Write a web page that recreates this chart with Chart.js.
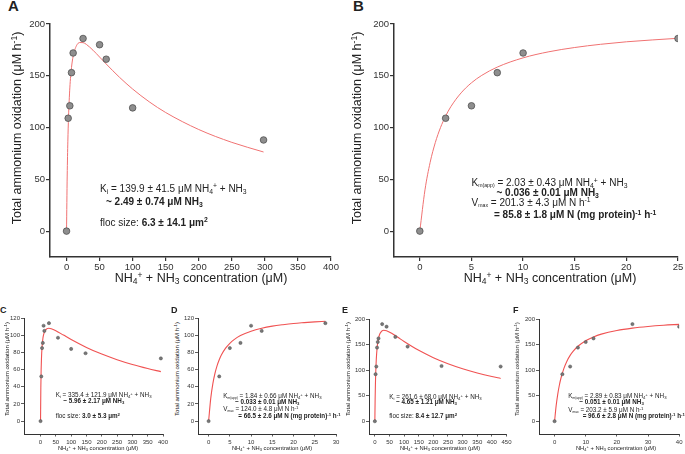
<!DOCTYPE html>
<html><head><meta charset="utf-8">
<script src="https://cdn.jsdelivr.net/npm/chart.js@4.4.1/dist/chart.umd.min.js"></script>
<style>
body{margin:0;width:685px;height:454px;position:relative;background:#fff;overflow:hidden;font-family:"Liberation Sans",Arial,sans-serif;color:#222}
canvas{position:absolute}
.t{position:absolute;white-space:nowrap;line-height:1}
.c{transform:translateX(-50%)}
.yt{transform:translate(-50%,-50%) rotate(-90deg)}
.f10{font-size:10px}.f63{font-size:6.3px}.tb{font-size:12.5px}.ts{font-size:6.1px}.tx{font-size:5.8px}
sub,sup{font-size:68%;line-height:0;position:relative;vertical-align:baseline}
sub{top:.32em}sup{top:-.45em}
sub.s{font-size:52%}
.L{font-weight:bold;font-size:15px}.l{font-weight:bold;font-size:9px}
</style></head><body>
<script>
// ---- Panel A (substrate inhibition, main) ----
const xA = [0,2.5,5,7.5,10,25,50,60,100,298];
const yA = [0,109,121,153,172,186,180,166,119,88];
const fitXA = [0,1,2,3,5,7.5,10,15,20,25,30,40,50,60,80,100,125,150,200,250,298];
const fitYA = [0,53.2,86.8,109.7,138.3,157.9,168.8,179.0,182.1,182.0,180.3,174.7,168.1,161.4,148.6,137.2,124.9,114.5,98.1,85.7,76.4];
const xTicksA = [0,50,100,150,200,250,300,350,400];
const yTicksA = [0,50,100,150,200];
// ---- Panel B (Michaelis-Menten, main) ----
const xB = [0,2.5,5,7.5,10,25];
const yB = [0,109,121,153,172,186];
const fitXB = [0,0.5,1,1.5,2,2.5,3,4,5,6,7.5,10,12.5,15,17.5,20,22.5,25];
const fitYB = [0,39.8,66.4,85.5,99.9,111.1,120.1,133.5,143.2,150.4,158.4,167.3,173.2,177.3,180.4,182.8,184.6,186.2];
const xTicksB = [0,5,10,15,20,25];
const yTicksB = [0,50,100,150,200];
// ---- Panel C ----
const xC = [0,2.5,5,7.5,10,12.5,27.5,57,100,147,393];
const yC = [0,52,85,91,111,105,114,97,84,79,73];
const fitXC = [0,1,2,3,5,7.5,10,15,20,27,35,50,75,100,150,200,250,300,350,393];
const fitYC = [0,39.5,60.0,72.4,86.5,95.6,100.6,105.4,107.3,108.0,107.5,105.2,100.1,95.0,85.8,78.0,71.5,65.9,61.2,57.6];
const xTicksC = [0,50,100,150,200,250,300,350,400];
const yTicksC = [0,20,40,60,80,100,120];
// ---- Panel D ----
const xD = [0,2.5,5,7.5,10,12.5,27.5];
const yD = [0,52,85,91,111,105,114];
const fitXD = [0,0.5,1,1.5,2,2.5,3,4,5,6,7.5,10,12.5,15,17.5,20,22.5,25,27.5];
const fitYD = [0,26.5,43.7,55.7,64.6,71.4,76.9,84.9,90.6,94.9,99.6,104.7,108.1,110.5,112.2,113.6,114.6,115.5,116.2];
const xTicksD = [0,5,10,15,20,25,30];
const yTicksD = [0,20,40,60,80,100,120];
// ---- Panel E ----
const xE = [0,2.5,5,7.5,10,12.5,25,40,70,112,228,430];
const yE = [0,92,107,144,155,162,190,185,165,146,108,107];
const fitXE = [0,1,2,3,5,7.5,10,15,20,30,40,60,80,100,150,200,250,300,350,400,430];
const fitYE = [0,44.4,73.8,94.7,122.0,142.1,154.4,167.7,173.9,177.9,177.2,171.3,163.7,156.1,138.7,124.4,112.6,102.8,94.5,87.4,83.7];
const xTicksE = [0,50,100,150,200,250,300,350,400,450];
const yTicksE = [0,50,100,150,200];
// ---- Panel F ----
const xF = [0,2.5,5,7.5,10,12.5,25,40];
const yF = [0,92,107,144,155,162,190,185];
const fitXF = [0,0.5,1,1.5,2,3,4,5,6,7.5,10,12.5,15,20,25,30,35,40];
const fitYF = [0,30.0,52.2,69.4,83.1,103.5,118.0,128.8,137.1,146.7,157.6,165.0,170.4,177.5,182.1,185.3,187.7,189.5];
const xTicksF = [0,10,20,30,40];
const yTicksF = [0,50,100,150,200];

function makeChart(s){
  const left = s.area.l - s.yw, top = s.area.t - s.pt;
  const w = s.area.r + s.pr - left, h = s.area.b + s.xh - top;
  const c = document.createElement('canvas');
  c.width = w; c.height = h;
  c.style.left = left+'px'; c.style.top = top+'px';
  c.style.width = w+'px'; c.style.height = h+'px';
  document.body.appendChild(c);
  const sm = s.small, ac = '#333';
  const fs = sm ? 6 : 9.5;
  const axis = (ticks, mn, mx, isX) => ({
    type:'linear', min:mn, max:mx,
    afterBuildTicks: sc => { sc.ticks = ticks.map(v => ({value:v})); },
    afterFit: sc => { if (isX) sc.height = s.xh; else sc.width = s.yw; },
    grid:{display:true, drawOnChartArea:false, drawTicks:true, tickLength: sm ? (isX?2.5:3) : 4, color:ac, lineWidth: sm?0.8:1.2},
    border:{display:true, color:ac, width: sm?1:1.5},
    ticks:{font:{family:'Liberation Sans', size:fs}, color:'#333', padding: sm ? (isX?2.5:1) : 1, maxRotation:0, autoSkip:false}
  });
  new Chart(c, {
    type:'scatter',
    data:{datasets:[
      {data: s.xs.map((x,i)=>({x:x, y:s.ys[i]})), showLine:false,
       pointRadius: sm?1.6:3.3, pointBackgroundColor: sm?'#777':'#8e8e8e',
       pointBorderColor:'#505050', pointBorderWidth: sm?0.5:0.8},
      {data: s.fx.map((x,i)=>({x:x, y:s.fy[i]})), showLine:true, pointRadius:0,
       borderColor: sm?'#f05252':'#f07272', borderWidth: sm?1.1:1,
       cubicInterpolationMode:'monotone', fill:false}
    ]},
    options:{
      responsive:false, animation:false, devicePixelRatio:1,
      layout:{padding:{top:s.pt, right:s.pr, left:0, bottom:0}},
      plugins:{legend:{display:false}, tooltip:{enabled:false}},
      scales:{ x: axis(s.xt, s.xMin, s.xMax, true), y: axis(s.yt, s.yMin, s.yMax, false) }
    }
  });
}

makeChart({area:{l:50,t:24,r:331,b:257}, yw:40, xh:20, pt:8, pr:12, xs:xA, ys:yA, fx:fitXA, fy:fitYA, xt:xTicksA, yt:yTicksA, xMin:-25, xMax:400, yMin:-25, yMax:200});
makeChart({area:{l:394,t:24,r:678,b:257}, yw:40, xh:20, pt:8, pr:7, xs:xB, ys:yB, fx:fitXB, fy:fitYB, xt:xTicksB, yt:yTicksB, xMin:-2.5, xMax:25, yMin:-25, yMax:200});
makeChart({small:true, area:{l:24,t:318,r:163,b:434}, yw:16, xh:12, pt:6, pr:8, xs:xC, ys:yC, fx:fitXC, fy:fitYC, xt:xTicksC, yt:yTicksC, xMin:-54, xMax:400, yMin:-15, yMax:120});
makeChart({small:true, area:{l:198,t:318,r:336,b:434}, yw:16, xh:12, pt:6, pr:6, xs:xD, ys:yD, fx:fitXD, fy:fitYD, xt:xTicksD, yt:yTicksD, xMin:-2.5, xMax:30, yMin:-15, yMax:120});
makeChart({small:true, area:{l:369,t:319,r:508,b:434}, yw:18, xh:12, pt:6, pr:6, xs:xE, ys:yE, fx:fitXE, fy:fitYE, xt:xTicksE, yt:yTicksE, xMin:-20, xMax:450, yMin:-25, yMax:200});
makeChart({small:true, area:{l:539,t:319,r:680,b:434}, yw:18, xh:12, pt:6, pr:5, xs:xF, ys:yF, fx:fitXF, fy:fitYF, xt:xTicksF, yt:yTicksF, xMin:-5, xMax:40, yMin:-25, yMax:200});
</script>

<!-- Panel letters -->
<div class="t L" style="left:8px;top:-2px">A</div>
<div class="t L" style="left:353px;top:-2px">B</div>
<div class="t l" style="left:0px;top:305.5px">C</div>
<div class="t l" style="left:171px;top:305.5px">D</div>
<div class="t l" style="left:342px;top:305.5px">E</div>
<div class="t l" style="left:513px;top:305.5px">F</div>

<!-- Axis titles, top -->
<div class="t tb yt" style="left:17px;top:128px">Total ammonium oxidation (μM h<sup>-1</sup>)</div>
<div class="t tb yt" style="left:357px;top:128px">Total ammonium oxidation (μM h<sup>-1</sup>)</div>
<div class="t tb c" style="left:201px;top:271.5px">NH<sub>4</sub><sup>+</sup> + NH<sub>3</sub> concentration (μM)</div>
<div class="t tb c" style="left:550px;top:271.5px">NH<sub>4</sub><sup>+</sup> + NH<sub>3</sub> concentration (μM)</div>

<!-- Annotations A -->
<div class="t f10" style="left:100px;top:183.5px">K<sub>i</sub> = 139.9 ± 41.5 μM NH<sub>4</sub><sup>+</sup> + NH<sub>3</sub></div>
<div class="t f10" style="left:106px;top:196.5px;font-weight:bold">~ 2.49 ± 0.74 μM NH<sub>3</sub></div>
<div class="t f10" style="left:100px;top:217.5px">floc size: <b>6.3 ± 14.1 μm<sup>2</sup></b></div>

<!-- Annotations B -->
<div class="t f10" style="left:471.5px;top:177.7px">K<sub class="s">m(app)</sub> = 2.03 ± 0.43 μM NH<sub>4</sub><sup>+</sup> + NH<sub>3</sub></div>
<div class="t f10" style="left:496.5px;top:188px;font-weight:bold">~ 0.036 ± 0.01 μM NH<sub>3</sub></div>
<div class="t f10" style="left:471.5px;top:197.5px">V<sub class="s">max</sub> = 201.3 ± 4.3 μM N h<sup>-1</sup></div>
<div class="t f10" style="left:494px;top:210px;font-weight:bold">= 85.8 ± 1.8 μM N (mg protein)<sup>-1</sup> h<sup>-1</sup></div>

<!-- Axis titles, bottom -->
<div class="t ts yt" style="left:7px;top:369px">Total ammonium oxidation (μM h<sup>-1</sup>)</div>
<div class="t ts yt" style="left:177px;top:369px">Total ammonium oxidation (μM h<sup>-1</sup>)</div>
<div class="t ts yt" style="left:348px;top:369px">Total ammonium oxidation (μM h<sup>-1</sup>)</div>
<div class="t ts yt" style="left:517px;top:369px">Total ammonium oxidation (μM h<sup>-1</sup>)</div>
<div class="t tx c" style="left:98px;top:446px">NH<sub>4</sub><sup>+</sup> + NH<sub>3</sub> concentration (μM)</div>
<div class="t tx c" style="left:272px;top:446px">NH<sub>4</sub><sup>+</sup> + NH<sub>3</sub> concentration (μM)</div>
<div class="t tx c" style="left:440px;top:446px">NH<sub>4</sub><sup>+</sup> + NH<sub>3</sub> concentration (μM)</div>
<div class="t tx c" style="left:616px;top:446px">NH<sub>4</sub><sup>+</sup> + NH<sub>3</sub> concentration (μM)</div>

<!-- Annotations C -->
<div class="t f63" style="left:55.7px;top:391.8px">K<sub>i</sub> = 335.4 ± 121.9 μM NH<sub>4</sub><sup>+</sup> + NH<sub>3</sub></div>
<div class="t f63" style="left:63.3px;top:397.8px;font-weight:bold">~ 5.96 ± 2.17 μM NH<sub>3</sub></div>
<div class="t f63" style="left:55.7px;top:412.5px">floc size: <b>3.0 ± 5.3 μm<sup>2</sup></b></div>

<!-- Annotations D -->
<div class="t f63" style="left:223.3px;top:392.8px">K<sub class="s">m(app)</sub> = 1.84 ± 0.66 μM NH<sub>4</sub><sup>+</sup> + NH<sub>3</sub></div>
<div class="t f63" style="left:235px;top:398.5px;font-weight:bold">~ 0.033 ± 0.01 μM NH<sub>3</sub></div>
<div class="t f63" style="left:223.3px;top:405.8px">V<sub class="s">max</sub> = 124.0 ± 4.8 μM N h<sup>-1</sup></div>
<div class="t f63" style="left:238.3px;top:412.8px;font-weight:bold">= 66.5 ± 2.6 μM N (mg protein)<sup>-1</sup> h<sup>-1</sup></div>

<!-- Annotations E -->
<div class="t f63" style="left:389.3px;top:393.5px">K<sub>i</sub> = 261.6 ± 68.0 μM NH<sub>4</sub><sup>+</sup> + NH<sub>3</sub></div>
<div class="t f63" style="left:396px;top:398.5px;font-weight:bold">~ 4.65 ± 1.21 μM NH<sub>3</sub></div>
<div class="t f63" style="left:389.3px;top:412.5px">floc size: <b>8.4 ± 12.7 μm<sup>2</sup></b></div>

<!-- Annotations F -->
<div class="t f63" style="left:568.3px;top:392.8px">K<sub class="s">m(app)</sub> = 2.89 ± 0.83 μM NH<sub>4</sub><sup>+</sup> + NH<sub>3</sub></div>
<div class="t f63" style="left:579.3px;top:398.5px;font-weight:bold">~ 0.051 ± 0.01 μM NH<sub>3</sub></div>
<div class="t f63" style="left:568.3px;top:406.8px">V<sub class="s">max</sub> = 203.2 ± 5.9 μM N h<sup>-1</sup></div>
<div class="t f63" style="left:582.7px;top:412.5px;font-weight:bold">= 96.6 ± 2.8 μM N (mg protein)<sup>-1</sup> h<sup>-1</sup></div>
</body></html>
